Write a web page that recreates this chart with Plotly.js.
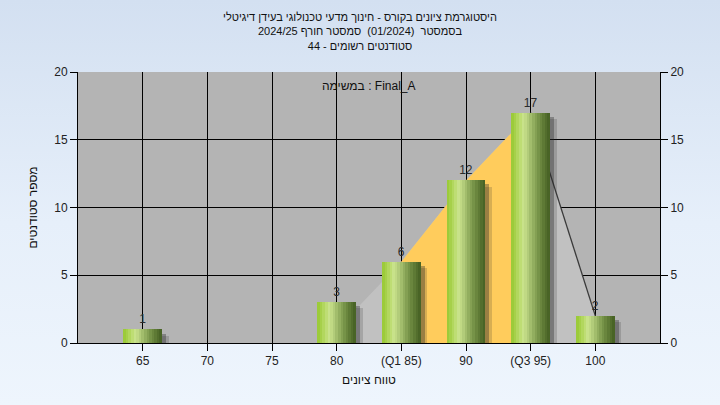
<!DOCTYPE html>
<html>
<head>
<meta charset="utf-8">
<script src="https://cdn.plot.ly/plotly-3.0.1.min.js"></script>
<style>
html,body{margin:0;padding:0;}
body{width:720px;height:405px;background:linear-gradient(to bottom,#d3e0f1 0%,#e6effa 55%,#eef5fd 100%);}
#chart{width:720px;height:405px;}
</style>
</head>
<body>
<div id="chart"></div>
<script>
// ---- data ----
const categories = [65, 70, 75, 80, 85, 90, 95, 100];
const counts = [1, 0, 0, 3, 6, 12, 17, 2];
const tickLabels = ['65', '70', '75', '80', '(Q1 85)', '90', '(Q3 95)', '100'];
const curveX = [80, 85, 90, 95, 100];
const curveY = [1, 6, 12, 17, 2];
const iqrX = [85, 90, 95];
const iqrY = [6, 12, 17];
const tailX = [95, 100];
const tailY = [17, 2];
const yTicks = [0, 5, 10, 15, 20];
const titleLines = [
  'היסטוגרמת ציונים בקורס - חינוך מדעי טכנולוגי בעידן דיגיטלי',
  'בסמסטר  (01/2024)  סמסטר חורף 2024/25',
  'סטודנטים רשומים - 44'
];
const taskLabel = 'במשימה : Final_A';
const xTitle = 'טווח ציונים';
const yTitle = 'מספר סטודנטים';

// ---- style ----
const FONT = 'Liberation Sans, Arial, sans-serif';
const barW = 3;
const stripColors = ['#9ccb3a','#a6d04a','#b2d75e','#bedd74','#c8e28a','#c0d984','#b2cc7a','#a2bd6c','#92ae5f','#84a053','#769348','#6a863e','#5e7a35','#536e2d','#496426'];
const stripW = barW / stripColors.length;

const traces = [];
// background curve area (main subplot, below bars)
traces.push({type:'scatter', x:curveX, y:curveY, xaxis:'x', yaxis:'y', mode:'lines', fill:'tozeroy',
  fillcolor:'#c1c1c1', line:{width:0, color:'rgba(0,0,0,0)'}, hoverinfo:'skip', showlegend:false});
traces.push({type:'scatter', x:iqrX, y:iqrY, xaxis:'x', yaxis:'y', mode:'lines', fill:'tozeroy',
  fillcolor:'#ffcc5c', line:{width:0, color:'rgba(0,0,0,0)'}, hoverinfo:'skip', showlegend:false});
traces.push({type:'scatter', x:tailX, y:tailY, xaxis:'x', yaxis:'y', mode:'lines',
  line:{width:1.3, color:'#3a3a3a'}, hoverinfo:'skip', showlegend:false});

// shadows (overlay subplot)
traces.push({type:'bar', x:categories, y:counts, base:-0.45, offset:-barW/2+0.5, width:barW,
  xaxis:'x', yaxis:'y2', marker:{color:'rgba(40,40,40,0.18)', line:{width:0}}, hoverinfo:'skip', showlegend:false});
traces.push({type:'bar', x:categories, y:counts, base:-0.3, offset:-barW/2+0.3, width:barW,
  xaxis:'x', yaxis:'y2', marker:{color:'rgba(40,40,40,0.35)', line:{width:0}}, hoverinfo:'skip', showlegend:false});

// gradient strips: each strip runs to the bar's right edge, later strips cover earlier ones
stripColors.forEach((c, i) => {
  traces.push({type:'bar', x:categories, y:counts, offset:-barW/2 + i*stripW, width:barW - i*stripW,
    xaxis:'x', yaxis:'y2', marker:{color:c, line:{width:0}}, hoverinfo:'skip', showlegend:false});
});
// labels
traces.push({type:'bar', x:categories, y:counts, offset:-barW/2, width:barW,
  xaxis:'x', yaxis:'y2', marker:{color:'rgba(0,0,0,0)', line:{width:0}},
  text:counts.map(v => v > 0 ? String(v) : ''), textposition:'outside', cliponaxis:false,
  textfont:{family:FONT, size:12, color:'#2a2a2a'}, hoverinfo:'skip', showlegend:false});

const axisCommon = {
  showline:true, linecolor:'#000', linewidth:1, ticks:'outside', ticklen:7, tickcolor:'#000',
  tickfont:{family:FONT, size:12, color:'#222'}, zeroline:false
};

const layout = {
  width:720, height:405,
  paper_bgcolor:'rgba(0,0,0,0)', plot_bgcolor:'#b4b4b4',
  margin:{l:78, r:60, t:72, b:62},
  barmode:'overlay', bargap:0,
  title:{text:titleLines.join('<br>'), font:{family:FONT, size:11, color:'#111'},
    x:0.5, xanchor:'center', y:0.948, yanchor:'top', yref:'container'},
  xaxis:Object.assign({}, axisCommon, {range:[60,105], tickvals:categories, ticktext:tickLabels,
    showgrid:true, gridcolor:'#000', gridwidth:1, mirror:false,
    title:{text:xTitle, font:{family:FONT, size:12, color:'#111'}, standoff:8}}),
  yaxis:Object.assign({}, axisCommon, {range:[0,20], tickvals:yTicks,
    showgrid:true, gridcolor:'#000', gridwidth:1,
    title:{text:yTitle, font:{family:FONT, size:12, color:'#111'}, standoff:14}}),
  yaxis2:Object.assign({}, axisCommon, {range:[0,20], tickvals:yTicks, overlaying:'y', side:'right',
    showgrid:false}),
  annotations:[{text:taskLabel, xref:'paper', yref:'paper', x:0.5, y:0.95, xanchor:'center', yanchor:'middle',
    showarrow:false, font:{family:FONT, size:12, color:'#111'}}],
  showlegend:false
};

Plotly.newPlot('chart', traces, layout, {displayModeBar:false, staticPlot:true});
</script>
</body>
</html>
